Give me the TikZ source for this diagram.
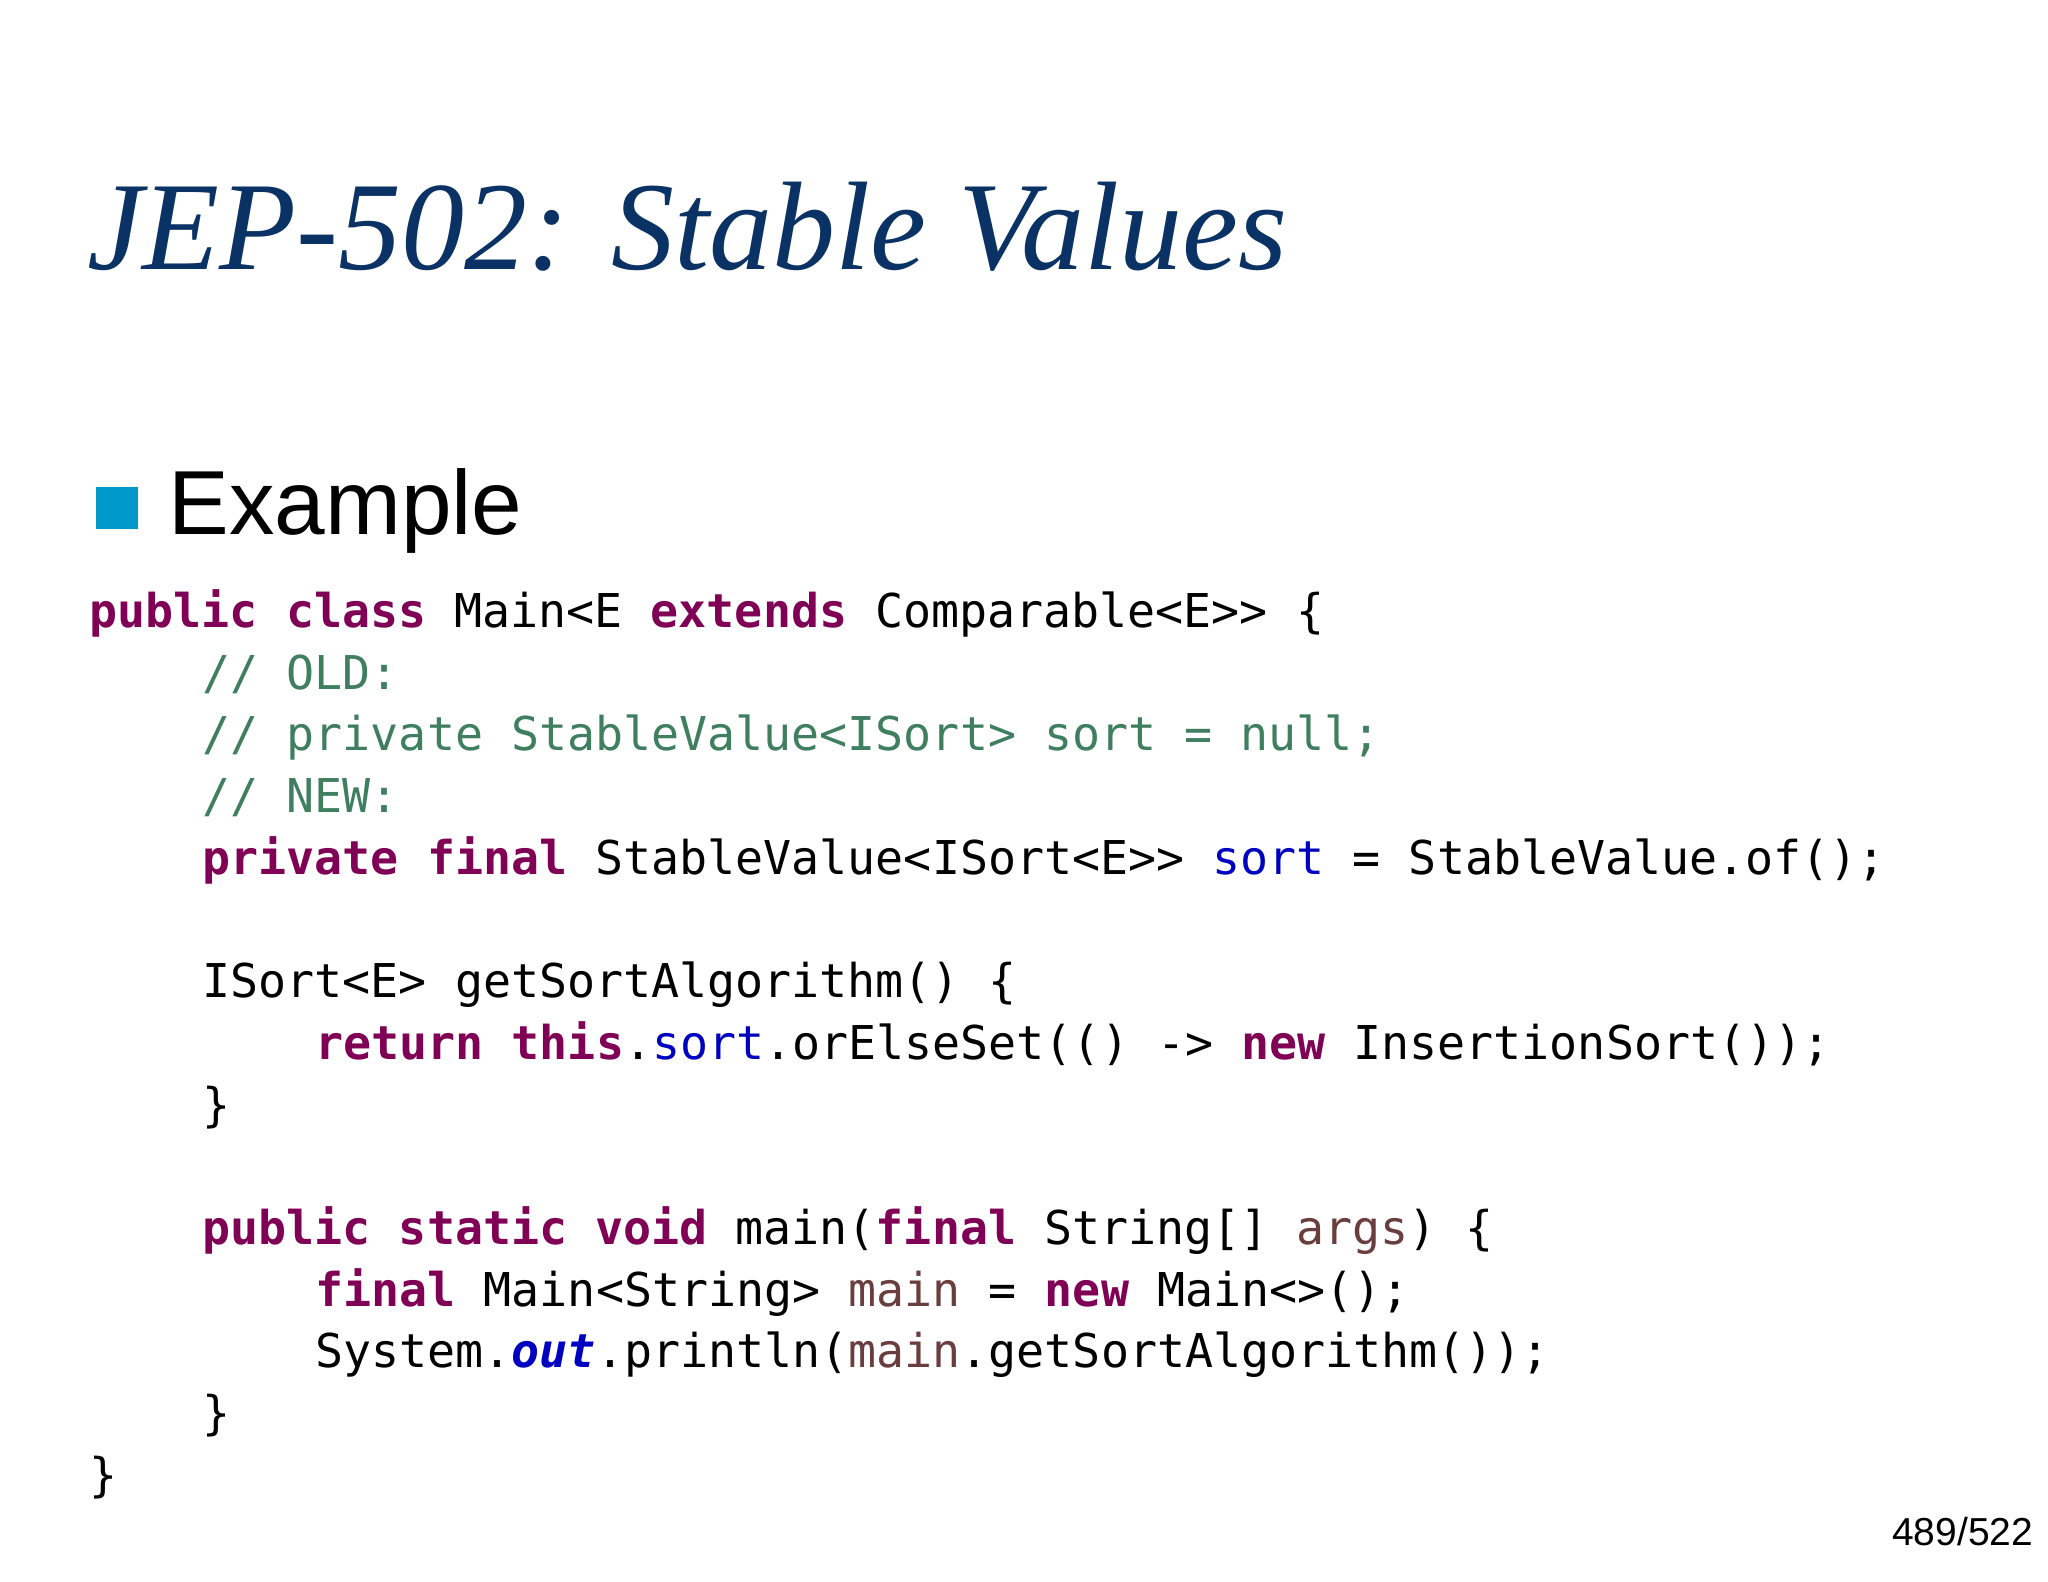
\documentclass[tikz,border=0pt]{standalone}
\usepackage{fontspec}
\setmainfont{Liberation Serif}
\setsansfont{Liberation Sans}
\setmonofont{DejaVu Sans Mono}
\definecolor{titleblue}{RGB}{10,50,100}
\definecolor{bulletblue}{RGB}{0,153,204}
\definecolor{kwc}{RGB}{127,0,85}
\definecolor{cmc}{RGB}{63,127,95}
\definecolor{fdc}{RGB}{0,0,192}
\definecolor{lvc}{RGB}{106,62,62}
\newcommand{\kw}[1]{\textcolor{kwc}{\bfseries #1}}
\newcommand{\cm}[1]{\textcolor{cmc}{#1}}
\newcommand{\fd}[1]{\textcolor{fdc}{#1}}
\newcommand{\lv}[1]{\textcolor{lvc}{#1}}
\begin{document}
\begin{tikzpicture}[x=0.6564pt,y=-0.6564pt,
  code/.style={anchor=base west,inner sep=0pt,font=\ttfamily\fontsize{23.3}{28}\selectfont,text=black}]
\useasboundingbox[fill=white] (0,0) rectangle (1560,1205);
\node[anchor=base west,inner sep=0pt,text=titleblue,font=\itshape\fontsize{63}{72}\selectfont] (title) at (66,205) {JEP-502: Stable Values};
\node[fill=bulletblue,minimum size=21pt,inner sep=0pt] (bul) at (89,387) {};
\node[anchor=base west,inner sep=0pt,font=\sffamily\fontsize{45.5}{54}\selectfont] (ex) at (128,407) {Example};
\def\ind{86}
\node[code] (l1) at (68,478) {\kw{public} \kw{class} Main<E \kw{extends} Comparable<E>> \{};
\node[code] (l2) at (68+\ind,525) {\cm{// OLD:}};
\node[code] (l3) at (68+\ind,572) {\cm{// private StableValue<ISort> sort = null;}};
\node[code] (l4) at (68+\ind,619) {\cm{// NEW:}};
\node[code] (l5) at (68+\ind,666) {\kw{private} \kw{final} StableValue<ISort<E>> \fd{sort} = StableValue.of();};
\node[code] (l6) at (68+\ind,760) {ISort<E> getSortAlgorithm() \{};
\node[code] (l7) at (68+2*\ind,807) {\kw{return} \kw{this}.\fd{sort}.orElseSet(() -> \kw{new} InsertionSort());};
\node[code] (l8) at (68+\ind,854) {\}};
\node[code] (l9) at (68+\ind,948) {\kw{public} \kw{static} \kw{void} main(\kw{final} String[] \lv{args}) \{};
\node[code] (l10) at (68+2*\ind,995) {\kw{final} Main<String> \lv{main} = \kw{new} Main<>();};
\node[code] (l11) at (68+2*\ind,1042) {System.\textcolor{fdc}{\bfseries\itshape out}.println(\lv{main}.getSortAlgorithm());};
\node[code] (l12) at (68+\ind,1089) {\}};
\node[code] (l13) at (68,1136) {\}};
\node[anchor=base east,inner sep=0pt,font=\sffamily\fontsize{19.5}{24}\selectfont] (pg) at (1549,1177) {489/522};
\end{tikzpicture}
\end{document}
